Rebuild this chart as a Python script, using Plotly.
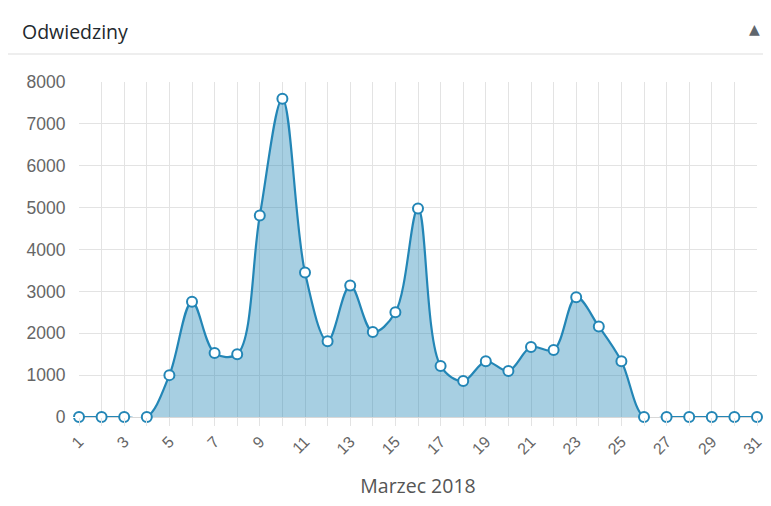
import plotly.graph_objects as go

days = list(range(1, 32))
visits = [0, 0, 0, 0, 1000, 2750, 1530, 1500, 4810, 7600, 3450, 1810, 3140, 2030,
          2500, 4980, 1220, 860, 1330, 1100, 1670, 1600, 2860, 2160, 1330,
          0, 0, 0, 0, 0, 0]
y_ticks = [0, 1000, 2000, 3000, 4000, 5000, 6000, 7000, 8000]
x_labels = [str(d) if d % 2 == 1 else "" for d in days]

title_text = "Odwiedziny"
x_title = "Marzec 2018"

line_col = "#2386b6"
fill_col = "rgba(35,134,182,0.40)"
grid_col = "#e3e3e3"

# page body has an 8px margin; compensate so the plot area sits at x 79..757, y 82..417
OFF = 8
W, H = 771 - OFF, 506 - OFF
L, R, T, B = 79 - OFF, 14, 82 - OFF, 89
PLOT_W = W - L - R
PLOT_H = H - T - B


def px_x(px):
    return (px - 79) / PLOT_W


def px_y(py):
    return 1 + (82 - py) / PLOT_H


fig = go.Figure()
fig.add_trace(go.Scatter(
    x=days, y=visits, mode="lines+markers",
    line=dict(color=line_col, width=2.2, shape="spline", smoothing=1.0),
    fill="tozeroy", fillcolor=fill_col,
    marker=dict(size=10, color="white", line=dict(color=line_col, width=2)),
    cliponaxis=False, hoverinfo="x+y",
))

fig.update_layout(
    width=W, height=H,
    margin=dict(l=L, r=R, t=T, b=B, autoexpand=False),
    paper_bgcolor="white", plot_bgcolor="white",
    showlegend=False,
    font=dict(family="Liberation Sans, Arial, sans-serif", size=17, color="#666666"),
    xaxis=dict(
        range=[1, 31], tickvals=days, ticktext=x_labels, tickangle=-45,
        showgrid=True, gridcolor=grid_col, gridwidth=1,
        ticks="outside", ticklen=8, tickcolor=grid_col,
        zeroline=False, showline=False,
        tickfont=dict(size=16, color="#666666"),
        title=dict(text=x_title, font=dict(family="Open Sans, sans-serif", size=19.5, color="#555555"), standoff=22),
    ),
    yaxis=dict(
        range=[0, 8000], tickvals=y_ticks,
        showgrid=True, gridcolor=grid_col, gridwidth=1,
        ticks="outside", ticklen=9, tickcolor="white",
        zeroline=True, zerolinecolor="#d8d8d8", zerolinewidth=1,
        showline=False,
        tickfont=dict(size=17.5, color="#666666"),
    ),
    annotations=[
        dict(text=title_text, xref="paper", yref="paper", x=px_x(20),
             y=px_y(31), xanchor="left", yanchor="middle",
             showarrow=False,
             font=dict(family="Open Sans, sans-serif", size=19.5, color="#23282d")),
        dict(text="▲", xref="paper", yref="paper", x=px_x(754),
             y=px_y(29), xanchor="center", yanchor="middle",
             showarrow=False, font=dict(family="DejaVu Sans", size=14, color="#5f666d")),
    ],
    shapes=[
        dict(type="line", xref="paper", yref="paper",
             x0=px_x(6), x1=px_x(771),
             y0=px_y(54), y1=px_y(54),
             line=dict(color="#eeeeee", width=2)),
    ],
)

fig.write_html("out.html")
